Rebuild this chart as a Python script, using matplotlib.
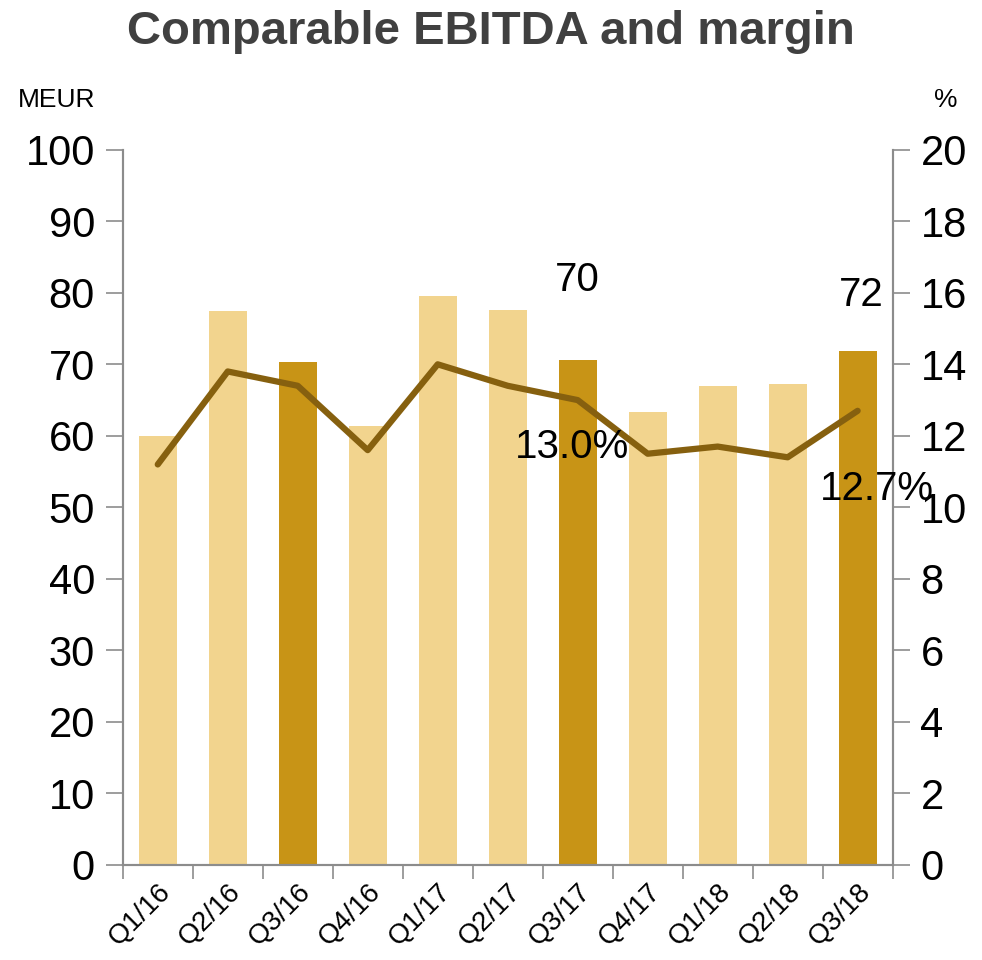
import numpy as np
import matplotlib.pyplot as plt

# Data
quarters = ['Q1/16', 'Q2/16', 'Q3/16', 'Q4/16', 'Q1/17', 'Q2/17',
            'Q3/17', 'Q4/17', 'Q1/18', 'Q2/18', 'Q3/18']
ebitda = [60.0, 77.5, 70.3, 61.4, 79.6, 77.6, 70.6, 63.4, 66.9, 67.3, 71.9]
margin = [11.2, 13.8, 13.4, 11.6, 14.0, 13.4, 13.0, 11.5, 11.7, 11.4, 12.7]
highlight = ['Q3/16', 'Q3/17', 'Q3/18']
bar_labels = {'Q3/17': '70', 'Q3/18': '72'}
line_labels = {'Q3/17': '13.0%', 'Q3/18': '12.7%'}

LIGHT = '#F2D48E'
DARK = '#C89416'
LINE = '#86600F'
GREY = '#8C8C8C'

plt.rcParams['font.family'] = ['Liberation Sans', 'DejaVu Sans']

fig = plt.figure(figsize=(9.82, 9.6), dpi=100)
ax = fig.add_axes([0.125, 0.099, 0.784, 0.745])
ax2 = ax.twinx()

x = np.arange(len(quarters))
colors = [DARK if q in highlight else LIGHT for q in quarters]
ax.bar(x, ebitda, width=0.54, color=colors, zorder=2)
ax2.plot(x, margin, color=LINE, lw=4.5, solid_capstyle='round', zorder=3)

ax.set_xlim(-0.5, len(quarters) - 0.5)
ax.set_ylim(0, 100)
ax2.set_ylim(0, 20)
ax.set_yticks(range(0, 101, 10))
ax2.set_yticks(range(0, 21, 2))

# category ticks sit between the bars
ax.set_xticks(np.arange(-0.5, len(quarters), 1))
ax.set_xticklabels([])
ax.set_xticks(x, minor=True)
ax.set_xticklabels(quarters, minor=True, rotation=45, ha='right',
                   rotation_mode='anchor', fontsize=20)
ax.tick_params(axis='x', which='minor', length=0, pad=10)
ax.tick_params(axis='x', which='major', length=10, color=GREY, width=1.2)

ax.tick_params(axis='y', labelsize=30, length=12, color=GREY, width=1.2, pad=8)
ax2.tick_params(axis='y', labelsize=30, length=12, color=GREY, width=1.2, pad=8)

for a in (ax, ax2):
    a.spines['top'].set_visible(False)
    for s in ('left', 'right', 'bottom'):
        a.spines[s].set_color(GREY)
        a.spines[s].set_linewidth(1.5)

# value labels (offsets as in the reference)
ax.text(6, 81.8, bar_labels['Q3/17'], ha='center', va='center', fontsize=29)
ax.text(10.05, 79.7, bar_labels['Q3/18'], ha='center', va='center', fontsize=29)
ax2.text(5.92, 11.7, line_labels['Q3/17'], ha='center', va='center', fontsize=29)
ax2.text(10.28, 10.5, line_labels['Q3/18'], ha='center', va='center', fontsize=29)

fig.text(0.5, 0.967, 'Comparable EBITDA and margin', ha='center', va='center',
         fontsize=34, fontweight='bold', color='#404040')
fig.text(0.018, 0.896, 'MEUR', ha='left', va='center', fontsize=19)
fig.text(0.963, 0.896, '%', ha='center', va='center', fontsize=19)

fig.savefig('out.png', dpi=100)
